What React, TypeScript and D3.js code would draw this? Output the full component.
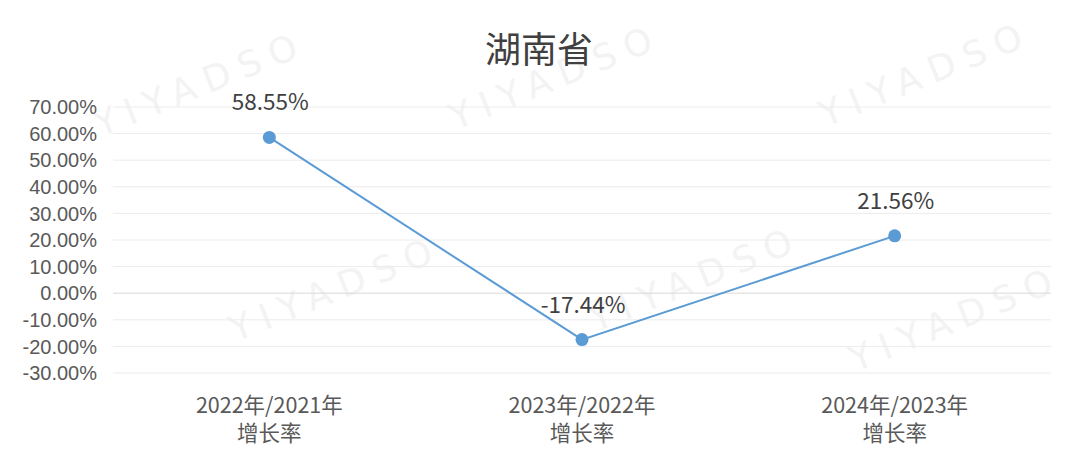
import * as d3 from "d3";
import { useEffect, useRef } from "react";

const categories = ["2022年/2021年|增长率", "2023年/2022年|增长率", "2024年/2023年|增长率"];
const growth = [58.55, -17.44, 21.56];
const yTicks = [70, 60, 50, 40, 30, 20, 10, 0, -10, -20, -30];
const watermarks = [
  [205, 95], [560, 88], [930, 85], [340, 300], [700, 290], [960, 330],
];

export default function App() {
  const ref = useRef<SVGSVGElement>(null);

  useEffect(() => {
    const width = 1080;
    const height = 471;
    const margin = { top: 107, right: 29, bottom: 98, left: 113 };
    const font = "'Noto Sans CJK SC', 'Noto Sans', sans-serif";

    const svg = d3.select(ref.current);
    svg.selectAll("*").remove();
    svg.attr("width", width).attr("height", height).style("display", "block");

    svg.append("rect").attr("width", width).attr("height", height).attr("fill", "#fff");

    // watermark
    svg.append("g").selectAll("text").data(watermarks).enter().append("text")
      .attr("transform", d => `translate(${d[0]},${d[1]}) rotate(-22)`)
      .attr("text-anchor", "middle")
      .attr("font-family", "'DejaVu Sans', sans-serif")
      .attr("font-size", 36)
      .attr("letter-spacing", 10)
      .attr("fill", "#f3f3f3")
      .text("YIYADSO");

    const x = d3.scaleBand()
      .domain(categories)
      .range([margin.left, width - margin.right]);

    const y = d3.scaleLinear()
      .domain([-30, 70])
      .range([height - margin.bottom, margin.top]);

    svg.append("g").selectAll("line").data(yTicks).enter().append("line")
      .attr("x1", margin.left).attr("x2", width - margin.right)
      .attr("y1", d => y(d)).attr("y2", d => y(d))
      .attr("stroke", d => d === 0 ? "#d9d9d9" : "#ececec")
      .attr("stroke-width", 1);

    svg.append("g").selectAll("text").data(yTicks).enter().append("text")
      .attr("x", 97).attr("y", d => y(d))
      .attr("dy", "0.36em")
      .attr("text-anchor", "end")
      .attr("font-family", "'Liberation Sans', Arial, sans-serif")
      .attr("font-size", 20)
      .attr("fill", "#595959")
      .text(d => `${d.toFixed(2)}%`);

    const cx = (c: string) => (x(c) as number) + x.bandwidth() / 2;

    const xl = svg.append("g").selectAll("text").data(categories).enter().append("text")
      .attr("text-anchor", "middle")
      .attr("font-family", font)
      .attr("font-size", 21.5)
      .attr("fill", "#595959");
    xl.append("tspan").attr("x", d => cx(d)).attr("y", 413).text(d => d.split("|")[0]);
    xl.append("tspan").attr("x", d => cx(d)).attr("y", 441).text(d => d.split("|")[1]);

    const pts = categories.map((c, i) => ({ c, v: growth[i] }));

    const line = d3.line<{ c: string; v: number }>()
      .x(d => cx(d.c))
      .y(d => y(d.v));

    svg.append("path")
      .datum(pts)
      .attr("d", line)
      .attr("fill", "none")
      .attr("stroke", "#5b9bd5")
      .attr("stroke-width", 2);

    svg.append("g").selectAll("circle").data(pts).enter().append("circle")
      .attr("cx", d => cx(d.c)).attr("cy", d => y(d.v))
      .attr("r", 6.5)
      .attr("fill", "#5b9bd5");

    svg.append("g").selectAll("text").data(pts).enter().append("text")
      .attr("x", d => cx(d.c) + 1)
      .attr("y", d => y(d.v) - 27)
      .attr("text-anchor", "middle")
      .attr("font-family", font)
      .attr("font-size", 22.5)
      .attr("fill", "#404040")
      .text(d => `${d.v.toFixed(2)}%`);

    svg.append("text")
      .attr("x", width / 2 - 1).attr("y", 63)
      .attr("text-anchor", "middle")
      .attr("font-family", font)
      .attr("font-size", 36)
      .attr("fill", "#404040")
      .text("湖南省");
  }, []);

  return (
    <div style={{ margin: -8 }}>
      <svg ref={ref}></svg>
    </div>
  );
}
